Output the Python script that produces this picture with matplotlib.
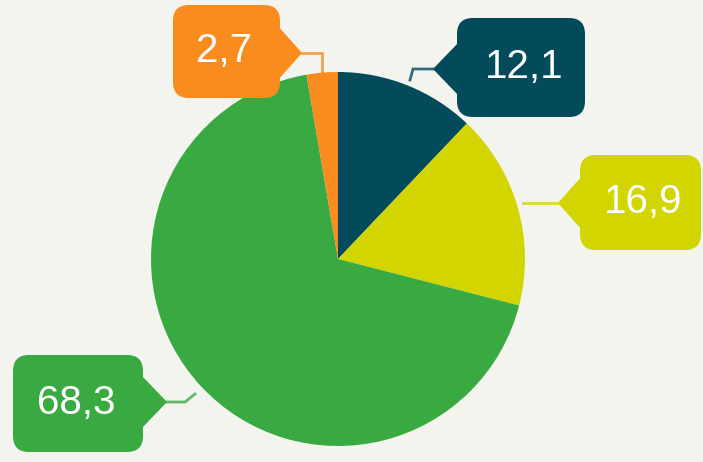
import matplotlib
matplotlib.use("Agg")
import matplotlib.pyplot as plt
from matplotlib.patches import FancyBboxPatch, Polygon

values = [12.1, 16.9, 68.3, 2.7]
labels = ["12,1", "16,9", "68,3", "2,7"]
colors = ["#034a5a", "#d2d500", "#39aa42", "#f98b1f"]
bg = "#f4f4ef"

W, H = 703, 462
fig = plt.figure(figsize=(W / 100, H / 100), dpi=100)
fig.patch.set_facecolor(bg)
ax = fig.add_axes([0, 0, 1, 1])


def Y(y):
    return H - y


cx, cy, r = 338, 259, 187
ax.pie(values, colors=colors, startangle=90, counterclock=False,
       center=(cx, Y(cy)), radius=r, frame=True,
       wedgeprops=dict(linewidth=0))
ax.set_xlim(0, W)
ax.set_ylim(0, H)
ax.set_aspect("auto")
ax.axis("off")

boxes = [
    dict(box=(457, 18, 585, 117), side="left", tip=(433, 69), half=27,
         line=[(433, 69), (413, 69), (410, 80)]),
    dict(box=(580, 155, 701, 250), side="left", tip=(558, 203), half=27,
         line=[(558, 203), (523, 203)]),
    dict(box=(13, 355, 143, 452), side="right", tip=(167, 402), half=27,
         line=[(167, 402), (185, 402), (195, 394)]),
    dict(box=(173, 5, 280, 98), side="right", tip=(302, 53), half=27,
         line=[(302, 53), (322, 53), (322, 74)]),
]

rad = 16
for b, lab, col in zip(boxes, labels, colors):
    x0, y0, x1, y1 = b["box"]
    p = FancyBboxPatch((x0 + rad, Y(y1) + rad), (x1 - x0) - 2 * rad, (y1 - y0) - 2 * rad,
                       boxstyle=f"round,pad={rad}", facecolor=col, edgecolor="none",
                       zorder=5)
    ax.add_patch(p)
    tx, ty = b["tip"]
    ex = x0 + 2 if b["side"] == "left" else x1 - 2
    tri = Polygon([(ex, Y(ty - b["half"])), (tx, Y(ty)), (ex, Y(ty + b["half"]))],
                  closed=True, facecolor=col, edgecolor="none", zorder=5)
    ax.add_patch(tri)
    xs = [p_[0] for p_ in b["line"]]
    ys = [Y(p_[1]) for p_ in b["line"]]
    ax.plot(xs, ys, color=col, lw=2, zorder=4, solid_joinstyle="miter", alpha=0.8)
    ax.text((x0 + x1) / 2 + (3 if b["side"] == "left" else -2), Y((y0 + y1) / 2 - 0.5), lab,
            color="white", fontsize=29, family="Liberation Sans",
            ha="center", va="center", zorder=6)

fig.savefig("out.png", dpi=100, facecolor=bg)
